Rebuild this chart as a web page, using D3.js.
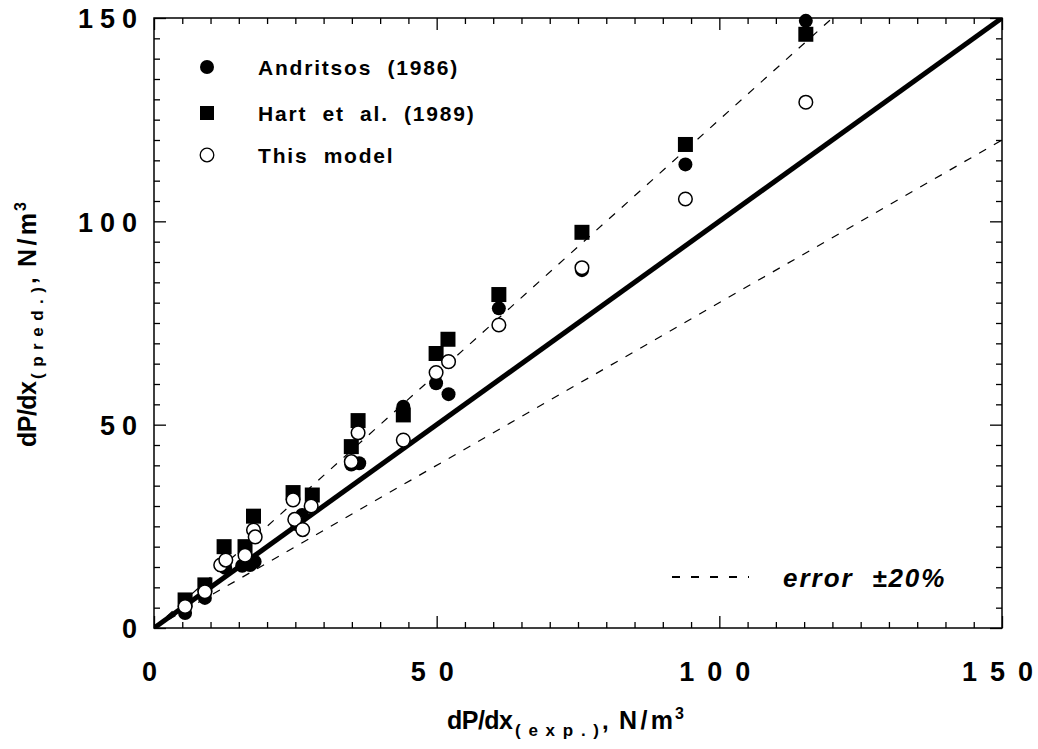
<!DOCTYPE html>
<html><head><meta charset="utf-8">
<script src="https://cdn.jsdelivr.net/npm/d3@7"></script>
<style>
body{margin:0;background:#fff}
text{font-family:"Liberation Sans",Arial,Helvetica,sans-serif;fill:#000}
</style>
</head><body>
<svg id="chart" width="1038" height="749"></svg>
<script>
// ---- data ----
const andritsos = [
  [5.5,3.7],[9.0,7.4],[12.6,14.8],[15.6,15.3],[17.0,15.5],[17.8,16.3],
  [25.3,25.5],[26.2,27.8],[34.9,40.2],[36.3,40.5],[44.1,54.4],
  [49.9,60.2],[52.1,57.5],[61.0,78.6],[75.7,88.0],[94.0,114.0],[115.3,149.3]
];
const hart = [
  [5.5,6.9],[9.0,10.6],[12.4,20.0],[16.1,20.0],[17.6,27.5],
  [24.6,33.3],[28.0,32.7],[34.9,44.6],[36.1,51.0],[44.1,52.4],
  [49.9,67.5],[52.0,71.0],[61.0,82.0],[75.7,97.3],[94.0,118.9],[115.3,146.0]
];
const thisModel = [
  [5.5,5.3],[9.0,8.9],[11.8,15.5],[12.7,16.7],[16.1,17.9],[17.6,24.1],[17.9,22.4],
  [24.6,31.5],[24.9,26.7],[26.3,24.2],[27.8,30.0],[34.9,40.9],[36.1,48.0],
  [44.1,46.2],[49.9,62.8],[52.1,65.5],[61.0,74.5],[75.7,88.6],[94.0,105.5],[115.3,129.3]
];
const legendLabels = ["Andritsos  (1986)","Hart  et  al.  (1989)","This  model"];
const majorTicks = [0,50,100,150];
const errorBand = 0.2;
const domainMax = 150;

// ---- drawing ----
const svg = d3.select("#chart");
const L = 154, R = 1002, T = 18, B = 628;
const x = d3.scaleLinear().domain([0,domainMax]).range([L,R]);
const y = d3.scaleLinear().domain([0,domainMax]).range([B,T]);
const minor = d3.range(0,domainMax+0.1,5).filter(v=>v%50!==0);

function styleAxis(g){ g.select(".domain").remove(); g.selectAll(".tick line").attr("stroke","#000").attr("stroke-width",1.3); }

// minor ticks all sides (inside)
svg.append("g").attr("transform",`translate(0,${B})`).call(d3.axisBottom(x).tickValues(minor).tickSize(-6).tickFormat("")).call(styleAxis);
svg.append("g").attr("transform",`translate(0,${T})`).call(d3.axisTop(x).tickValues(minor).tickSize(-6).tickFormat("")).call(styleAxis);
svg.append("g").attr("transform",`translate(${L},0)`).call(d3.axisLeft(y).tickValues(minor).tickSize(-6).tickFormat("")).call(styleAxis);
svg.append("g").attr("transform",`translate(${R},0)`).call(d3.axisRight(y).tickValues(minor).tickSize(-6).tickFormat("")).call(styleAxis);
// major ticks
const fmt = d3.format("d");
const xb = svg.append("g").attr("transform",`translate(0,${B})`).call(d3.axisBottom(x).tickValues(majorTicks).tickSize(-12).tickPadding(53).tickFormat(fmt)).call(styleAxis);
svg.append("g").attr("transform",`translate(0,${T})`).call(d3.axisTop(x).tickValues(majorTicks).tickSize(-12).tickFormat("")).call(styleAxis);
const yl = svg.append("g").attr("transform",`translate(${L},0)`).call(d3.axisLeft(y).tickValues(majorTicks).tickSize(-12).tickPadding(17).tickFormat(fmt)).call(styleAxis);
svg.append("g").attr("transform",`translate(${R},0)`).call(d3.axisRight(y).tickValues(majorTicks).tickSize(-12).tickFormat("")).call(styleAxis);

// spaced digits (gap only between characters)
function spaceDigits(sel, gap, shift){
  sel.each(function(){
    const t = d3.select(this); const s = t.text(); t.text("");
    s.split("").forEach((c,i)=>t.append("tspan").attr("dx", i===0 ? shift : gap).text(c));
  });
}
[xb,yl].forEach(g=>g.selectAll(".tick text").attr("font-family","Liberation Sans, Arial, sans-serif").attr("font-size",27).attr("font-weight","bold").attr("fill","#000"));
xb.selectAll(".tick text").attr("dy","0");
spaceDigits(xb.selectAll(".tick text"), 13, -5);
yl.selectAll(".tick text").attr("dy","0.36em");
spaceDigits(yl.selectAll(".tick text"), 7, 0);

// frame
svg.append("rect").attr("x",L).attr("y",T).attr("width",R-L).attr("height",B-T).attr("fill","none").attr("stroke","#000").attr("stroke-width",1.5);

// clip
svg.append("clipPath").attr("id","clip").append("rect").attr("x",L).attr("y",T).attr("width",R-L).attr("height",B-T);
const plot = svg.append("g").attr("clip-path","url(#clip)");
const line = d3.line().x(d=>x(d[0])).y(d=>y(d[1]));
plot.append("path").datum([[0,0],[domainMax,domainMax]]).attr("d",line).attr("stroke","#000").attr("stroke-width",5).attr("fill","none");
plot.append("path").datum([[0,0],[domainMax*(1-errorBand),domainMax]]).attr("d",line).attr("stroke","#000").attr("stroke-width",1.2).attr("stroke-dasharray","8,9").attr("fill","none");
plot.append("path").datum([[0,0],[domainMax,domainMax*(1-errorBand)]]).attr("d",line).attr("stroke","#000").attr("stroke-width",1.2).attr("stroke-dasharray","8,9").attr("fill","none");

// markers
const mg = svg.append("g");
mg.selectAll(".sq").data(hart).join("rect").attr("x",d=>x(d[0])-7.5).attr("y",d=>y(d[1])-7.5).attr("width",15).attr("height",15).attr("fill","#000");
mg.selectAll(".fc").data(andritsos).join("circle").attr("cx",d=>x(d[0])).attr("cy",d=>y(d[1])).attr("r",7).attr("fill","#000");
mg.selectAll(".oc").data(thisModel).join("circle").attr("cx",d=>x(d[0])).attr("cy",d=>y(d[1])).attr("r",6.8).attr("fill","#fff").attr("stroke","#000").attr("stroke-width",1.5);

// legend
const lx = 207, ly = [67,113,155];
svg.append("circle").attr("cx",lx).attr("cy",ly[0]).attr("r",7).attr("fill","#000");
svg.append("rect").attr("x",lx-7).attr("y",ly[1]-7).attr("width",14).attr("height",14).attr("fill","#000");
svg.append("circle").attr("cx",lx).attr("cy",ly[2]).attr("r",6.8).attr("fill","#fff").attr("stroke","#000").attr("stroke-width",1.3);
legendLabels.forEach((t,i)=>{
  svg.append("text").attr("x",258).attr("y",ly[i]+7.5).attr("font-size",21).attr("font-weight","bold").attr("letter-spacing","1.8px").style("white-space","pre").text(t);
});

// error legend
svg.append("line").attr("x1",672).attr("x2",749).attr("y1",577).attr("y2",577).attr("stroke","#000").attr("stroke-width",2.2).attr("stroke-dasharray","8,11");
svg.append("text").attr("x",783).attr("y",587).attr("font-size",26).attr("font-weight","bold").attr("font-style","italic").attr("letter-spacing","2px").style("white-space","pre").text("error  ±20%");

// axis titles (pieces placed along the baseline)
function axisTitle(g, sub, subLen){
  const t = (txt, pos, opts) => {
    const e = g.append("text").attr("x",pos).attr("y",opts.dy||0).attr("font-size",opts.fs).attr("font-weight","bold").text(txt);
    if(opts.len){ e.attr("textLength",opts.len).attr("lengthAdjust","spacing"); }
    return e;
  };
  t("dP/dx",0,{fs:25,len:66});
  t(sub,68,{fs:17,len:subLen,dy:7});
  t(",",68+subLen+3,{fs:24});
  t("N/m",68+subLen+20,{fs:25,len:54});
  t("3",68+subLen+76,{fs:16,dy:-10});
}
axisTitle(svg.append("g").attr("transform","translate(447,729)"),"(exp.)",84);
axisTitle(svg.append("g").attr("transform","translate(36,447) rotate(-90)"),"(pred.)",92);
</script>
</body></html>
